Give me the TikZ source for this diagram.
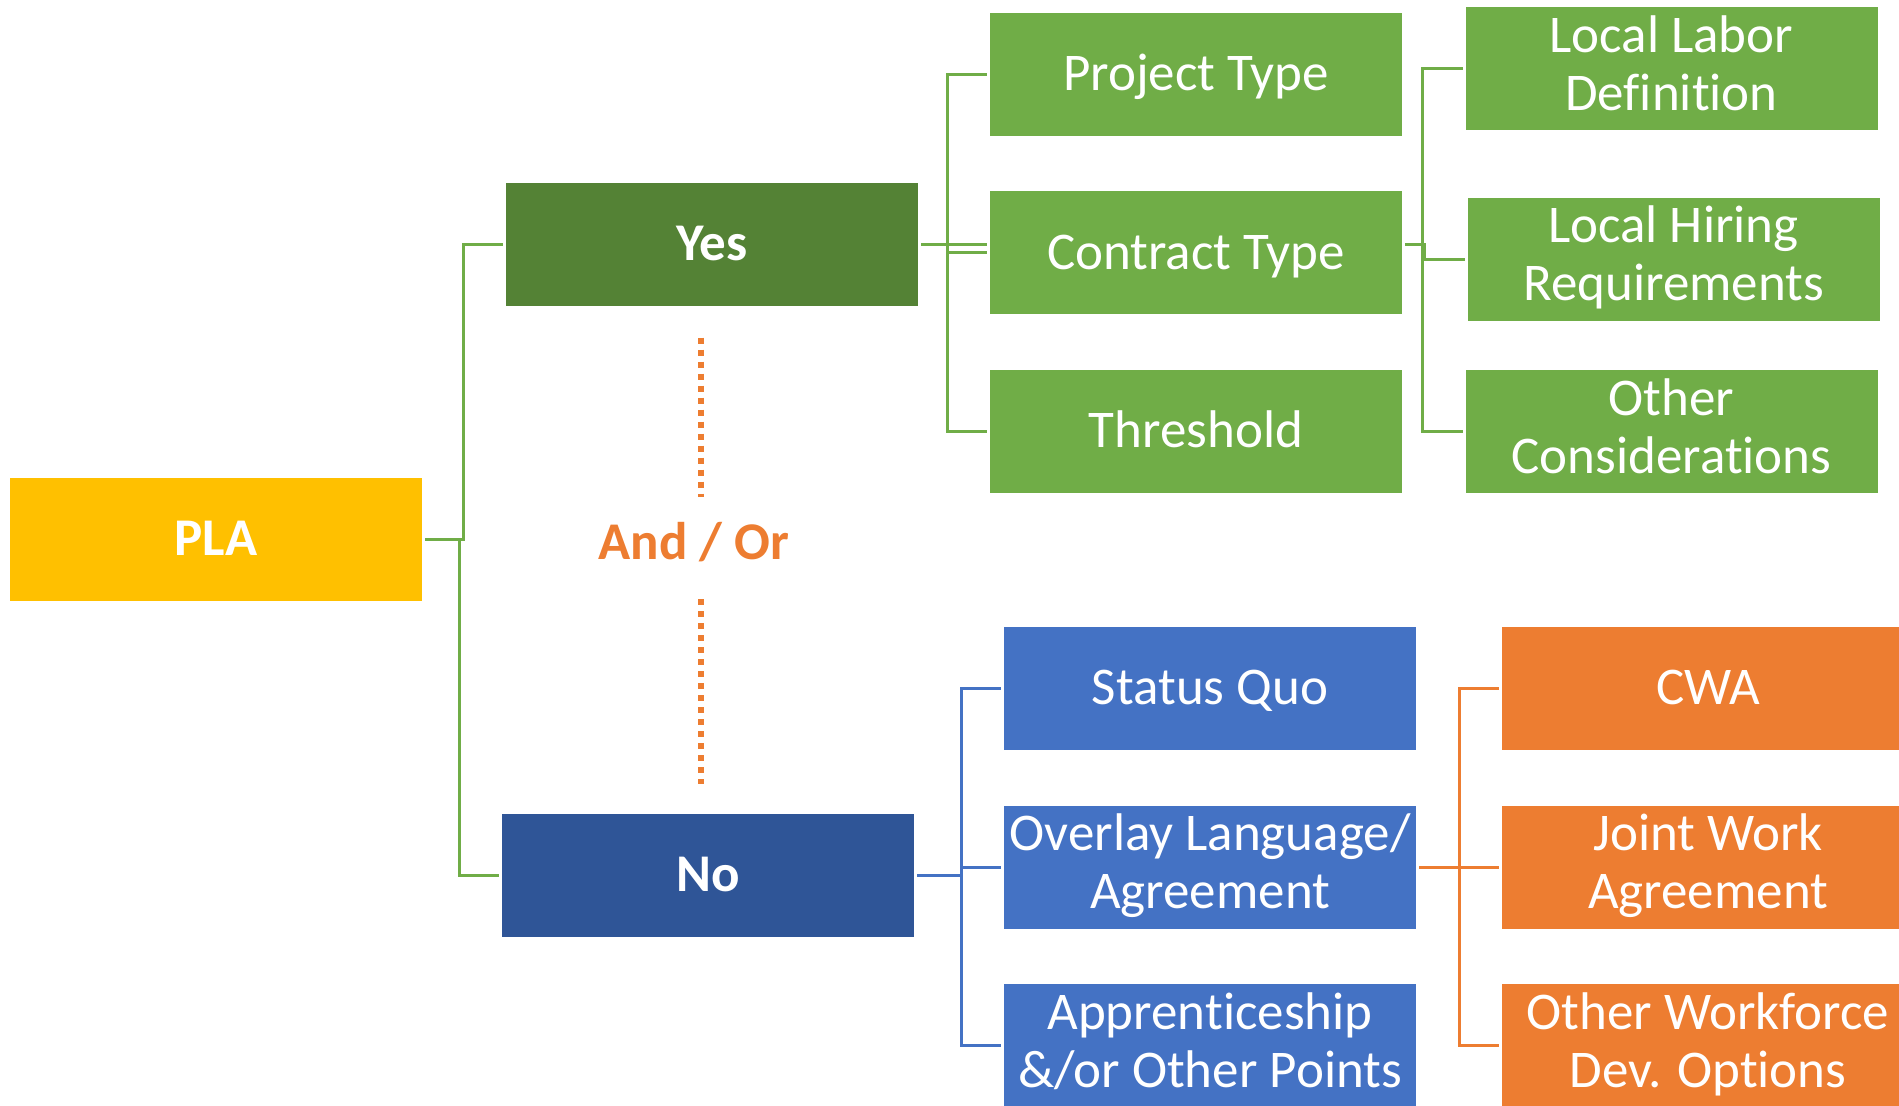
\documentclass[tikz,border=0pt]{standalone}
\usepackage{fontspec}
\setmainfont{Carlito}[Ligatures=NoCommon]
\usepackage{tikz}
\usetikzlibrary{positioning, calc}
\definecolor{plagold}{RGB}{255, 192, 0}
\definecolor{darkgreen}{RGB}{84, 130, 53}
\definecolor{leafgreen}{RGB}{112, 173, 71}
\definecolor{navyblue}{RGB}{47, 85, 151}
\definecolor{midblue}{RGB}{68, 114, 196}
\definecolor{warmorange}{RGB}{237, 125, 49}
\newcommand{\boxstrut}{\rule[-5.5pt]{0pt}{27.3pt}}
\tikzset{
  tbox/.style={rectangle, minimum width=206pt, minimum height=61.5pt, inner sep=0pt, outer sep=0pt,
    text=white, align=center, font=\fontsize{26.5}{29}\selectfont,
    execute at begin node=\boxstrut, execute at end node=\boxstrut},
  tbox_bold/.style={tbox, font=\fontsize{26.5}{29}\selectfont\bfseries},
  link_green/.style={draw=leafgreen, line width=1.5pt, shorten <=1.5pt, shorten >=1.5pt},
  link_blue/.style={draw=midblue, line width=1.5pt, shorten <=1.5pt, shorten >=1.5pt},
  link_orange/.style={draw=warmorange, line width=1.5pt, shorten <=1.5pt, shorten >=1.5pt},
  dotline/.style={draw=warmorange, line width=3pt, dash pattern=on 3pt off 3pt}
}
\begin{document}
\begin{tikzpicture}[x=0.5pt, y=-0.5pt]
    \useasboundingbox (0,0) rectangle (1899,1105);

    % --- ROOT ---
    \node[tbox_bold, fill=plagold] (pla) at (216, 539.5) {PLA};

    % --- YES / NO ---
    \node[tbox_bold, fill=darkgreen] (yes) at (712, 244.5) {Yes};
    \node[tbox_bold, fill=navyblue] (no) at (708, 875.5) {No};

    % And / Or between the two branches
    \node[font=\fontsize{26.5}{29}\selectfont\bfseries, text=warmorange, inner sep=0pt] (andor) at (694, 543) {\boxstrut And / Or};
    \coordinate (dot1a) at (701, 337.7);
    \coordinate (dot1b) at (701, 496.7);
    \coordinate (dot2a) at (701, 599);
    \coordinate (dot2b) at (701, 784);
    \draw[dotline] (dot1a) -- (dot1b);
    \draw[dotline] (dot2a) -- (dot2b);

    % --- YES BRANCH ---
    \node[tbox, fill=leafgreen] (ptype) at (1196, 74.2) {Project Type};
    \node[tbox, fill=leafgreen] (ctype) at (1196, 252.8) {Contract Type};
    \node[tbox, fill=leafgreen] (thold) at (1196, 431.3) {Threshold};

    \node[tbox, fill=leafgreen] (llabor) at (1671.5, 68.5) {Local Labor\\Definition};
    \node[tbox, fill=leafgreen] (lhire) at (1673.5, 259) {Local Hiring\\Requirements};
    \node[tbox, fill=leafgreen] (other) at (1671.5, 431.8) {Other\\Considerations};

    % --- NO BRANCH ---
    \node[tbox, fill=midblue] (squo) at (1210, 688.6) {Status Quo};
    \node[tbox, fill=midblue] (overlay) at (1210, 867) {Overlay Language/\\Agreement};
    \node[tbox, fill=midblue] (appr) at (1210, 1045.7) {Apprenticeship\\\&/or Other Points};

    \node[tbox, fill=warmorange] (cwa) at (1708, 688.6) {CWA};
    \node[tbox, fill=warmorange] (jwa) at (1708, 867) {Joint Work\\Agreement};
    \node[tbox, fill=warmorange] (owf) at (1708, 1045.7) {Other Workforce\\Dev. Options};

    % --- CONNECTORS ---
    \draw[link_green] (pla.east) -- ++(41,0) |- (yes.west);
    \draw[link_green] (pla.east) -- ++(37,0) |- (no.west);

    \draw[link_green] (yes.east) -- ++(29,0) |- (ptype.west);
    \draw[link_green] (yes.east) -- (yes.east -| ctype.west);
    \draw[link_green] (yes.east) -- ++(29,0) |- (ctype.west);
    \draw[link_green] (yes.east) -- ++(29,0) |- (thold.west);

    \draw[link_green] ([yshift=4pt]ctype.east) -- ++(20,0) |- (llabor.west);
    \draw[link_green] ([yshift=4pt]ctype.east) -- ++(22.7,0) |- (lhire.west);
    \draw[link_green] ([yshift=4pt]ctype.east) -- ++(20,0) |- (other.west);

    \draw[link_blue] (no.east) -- ++(47,0) |- (squo.west);
    \draw[link_blue] (no.east) -- ++(47,0) |- (overlay.west);
    \draw[link_blue] (no.east) -- ++(47,0) |- (appr.west);

    \draw[link_orange] (overlay.east) -- ++(43,0) |- (cwa.west);
    \draw[link_orange] (overlay.east) -- (jwa.west);
    \draw[link_orange] (overlay.east) -- ++(43,0) |- (owf.west);
\end{tikzpicture}
\end{document}
